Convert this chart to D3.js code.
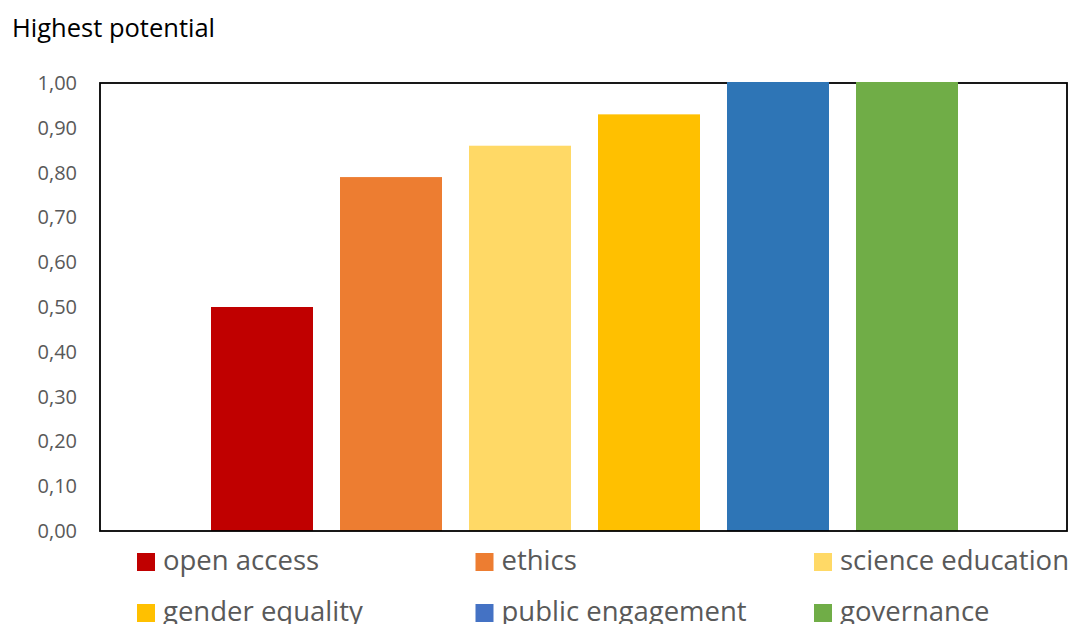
<!DOCTYPE html>
<html>
<head>
<meta charset="utf-8">
<script src="https://cdn.jsdelivr.net/npm/d3@7"></script>
<style>
body{margin:0;background:#fff;}
svg{display:block;font-family:"Open Sans","Liberation Sans",sans-serif;}
</style>
</head>
<body>
<svg width="1072" height="624"></svg>
<script>
// data
var categories=['open access','ethics','science education','gender equality','public engagement','governance'];
var values=[0.50,0.79,0.86,0.93,1.00,1.00];
var barColours=['#C00000','#ED7D31','#FFD966','#FFC000','#2E75B6','#70AD47'];
var legendColours=['#C00000','#ED7D31','#FFD966','#FFC000','#4472C4','#70AD47'];
var yTicks=[0,0.1,0.2,0.3,0.4,0.5,0.6,0.7,0.8,0.9,1.0];

var svg=d3.select('svg');
var box={left:100,top:83,right:1067,bottom:531};

var y=d3.scaleLinear().domain([0,1]).range([box.bottom,box.top]);
// bars sit in the middle of the box, with gaps between them
var x=d3.scaleBand().domain(categories).range([211,958]).paddingInner(27/129).paddingOuter(0);

svg.append('text').attr('x',12).attr('y',37)
	.attr('font-size',25.5).attr('fill','#000')
	.text('Highest potential');

// y axis labels
var yAxis=d3.axisLeft(y).tickValues(yTicks).tickSize(0).tickPadding(23)
	.tickFormat(function(d){return d3.format('.2f')(d).replace('.',',');});
var ga=svg.append('g').attr('transform','translate('+box.left+',0)').call(yAxis);
ga.select('.domain').remove();
ga.selectAll('text').attr('font-size',20).attr('fill','#595959')
	.attr('font-family','"Open Sans","Liberation Sans",sans-serif');

// bars
svg.append('g').selectAll('rect').data(categories).enter().append('rect')
	.attr('x',function(d){return x(d);})
	.attr('y',function(d,i){return y(values[i]);})
	.attr('width',x.bandwidth())
	.attr('height',function(d,i){return y(0)-y(values[i]);})
	.attr('fill',function(d,i){return barColours[i];});

// frame round the plot
svg.append('rect').attr('x',box.left).attr('y',box.top)
	.attr('width',box.right-box.left).attr('height',box.bottom-box.top)
	.attr('fill','none').attr('stroke','#000').attr('stroke-width',1.8);
// bars at 1,00 are drawn over the top line
svg.append('g').selectAll('rect').data(categories.filter(function(d,i){return values[i]>=1;})).enter().append('rect')
	.attr('x',function(d){return x(d);})
	.attr('y',box.top-1)
	.attr('width',x.bandwidth()).attr('height',3)
	.attr('fill',function(d){return barColours[categories.indexOf(d)];});

// legend, three per row
var lg=svg.append('g').selectAll('g').data(categories).enter().append('g')
	.attr('transform',function(d,i){return 'translate('+(137+(i%3)*338.5)+','+(553+Math.floor(i/3)*51)+')';});
lg.append('rect').attr('width',18).attr('height',18)
	.attr('fill',function(d,i){return legendColours[i];});
lg.append('text').attr('x',26).attr('y',17)
	.attr('font-size',27.5).attr('fill','#595959')
	.text(function(d){return d;});
</script>
</body>
</html>
